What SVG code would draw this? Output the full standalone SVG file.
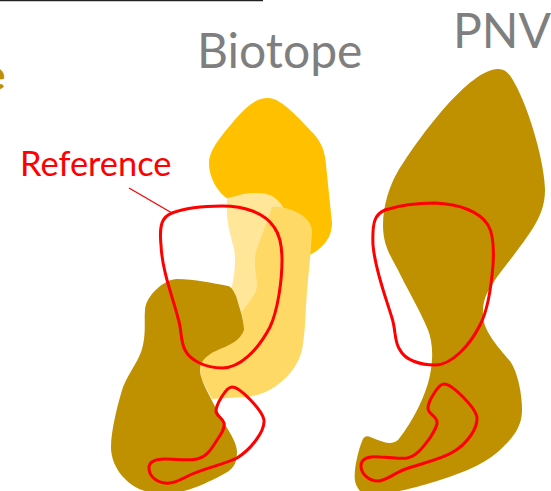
<svg xmlns="http://www.w3.org/2000/svg" width="551" height="491" viewBox="0 0 551 491">
<style>
text{font-family:Lato,"Liberation Sans",sans-serif}
.lbl{fill:#7f7f7f;font-size:48px}
.red{fill:none;stroke:#ff0000;stroke-width:3}
.brown{fill:#bf9000}
</style>
<rect width="551" height="491" fill="#ffffff"/>
<line x1="0" y1="0.5" x2="263" y2="0.5" stroke="#222222" stroke-width="1.5"/>
<text x="-17" y="90" font-size="42" font-weight="700" fill="#bf9000">e</text>
<g id="biotope">
<text class="lbl" x="197" y="68">Biotope</text>
<path fill="#ffc000" d="M268 98C282 98 300 120 313 133C321 142 325 150 326 165L332 223C332 240 320 250 308 256L230 200C220 195 209 180 209 163C209 150 222 135 233 122C245 108 255 98 268 98Z"/>
<path fill="#ffe699" d="M227 198C235 197 242 193 252 193C262 193 274 192 283 207L290 260L290 300L235 320L231 290C236 270 236 255 233 245C230 230 226 225 227 198Z"/>
<path fill="#ffd966" d="M272 207C280 205 312 212 312 232C311 250 309 270 308 280C305 310 306 330 302 350C296 375 270 396 245 397L212 399C205 385 200 378 200 368C200 360 207 355 215 351C228 345 236 342 244 328L242 312C250 300 258 293 257 283C255 270 254 260 256 252C260 240 270 215 272 207Z"/>
<path class="brown" d="M177 279C195 279 212 283 228 286C232 287 234 292 236 296C240 310 244 320 244 330C240 340 233 343 225 347C215 351 200 357 200 370C200 380 212 400 217 410C224 425 237 440 237 452C237 465 232 470 222 475C205 484 190 491 165 495L145 491C130 487 111 470 111 447C111 430 118 403 123 387C130 370 140 360 143 345C146 330 144 320 145 310C146 295 165 279 177 279Z"/>
</g>
<g id="pnv">
<text class="lbl" x="453" y="48">PNV</text>
<path class="brown" d="M498 69C506 69 510 75 514 82C530 110 545 165 545 190C545 205 540 217 533 228C522 245 510 260 497 277C485 295 483 300 483 315C483 330 497 346 510 361C518 372 522 395 522 410C522 425 515 435 505 445C490 462 465 472 440 480C425 485 410 489 385 494L360 491C355 485 354 480 355 470C356 460 360 445 363 439C366 434 370 437 375 439C385 443 392 445 398 440C408 428 425 400 430 375C434 355 432 340 428 330C420 310 405 285 398 270C390 255 383 245 383 225C383 205 390 185 397 173C420 135 470 69 498 69Z"/>
</g>
<g id="reference">
<text x="20" y="176" font-size="34.4" fill="#ff0000">Reference</text>
<path class="red" d="M172 213C185 208 200 206 222 206C245 206 265 213 274 227C280 235 282 245 282 260C282 280 278 310 270 327C258 350 240 368 222 368C205 368 190 360 185 350C180 340 182 330 178 318C172 295 162 270 161 245C159 225 162 217 172 213Z"/>
<path class="red" d="M232 387C240 387 262 410 264 420C265 432 250 450 237 458C225 464 205 468 190 475C180 480 173 484 165 483C155 482 149 475 149 468C149 460 158 459 165 459C175 459 190 461 197 459C207 457 212 448 217 440C222 433 225 428 224 423C222 417 216 416 216 411C216 405 226 387 232 387Z"/>
<path class="red" d="M385 210C400 205 415 203 435 203C460 204 480 212 488 225C494 235 494 250 493 265C491 290 488 310 480 325C470 345 452 365 435 365C420 365 405 360 400 350C394 342 396 330 392 318C386 298 375 270 373 245C372 222 375 214 385 210Z"/>
<path class="red" d="M444 384C452 384 475 407 477 417C478 430 465 445 453 452C440 460 418 464 403 470C393 474 386 481 378 481C368 481 361 473 361 466C361 457 372 456 380 457C390 457 400 459 407 458C417 456 423 447 430 438C435 430 438 425 437 421C435 415 428 414 428 408C428 402 438 384 444 384Z"/>
</g>
<g id="connectors">
<line x1="129" y1="188" x2="172" y2="213" stroke="#ff0000" stroke-width="1.3"/>
</g>
</svg>
